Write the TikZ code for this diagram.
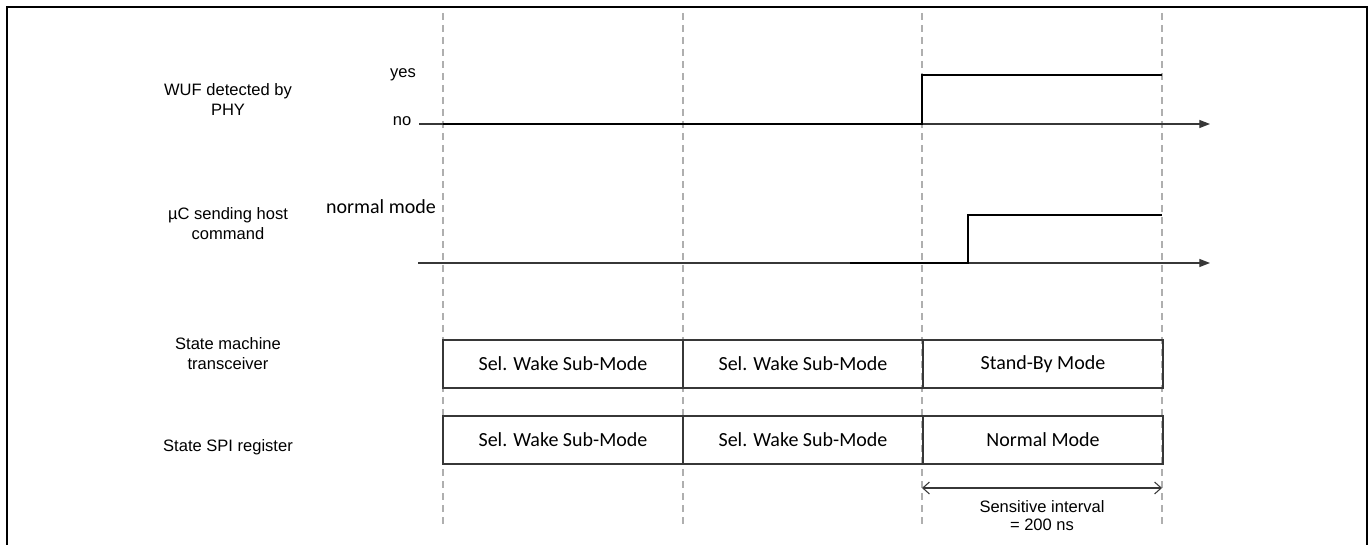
\documentclass[tikz,border=0pt]{standalone}
\usepackage{fontspec}
\setmainfont{Liberation Sans}
\newfontfamily\boxfont{Carlito}
\usetikzlibrary{arrows.meta,positioning}
\definecolor{gridgrey}{RGB}{175,175,175}
\definecolor{boxline}{RGB}{55,55,55}

\begin{document}
\begin{tikzpicture}[
  x=0.75pt, y=-0.75pt,
  lbl/.style={font=\fontsize{12.4}{15}\selectfont, align=center, inner sep=0pt},
  lvl/.style={font=\fontsize{12.4}{15}\selectfont, inner sep=0pt},
  grid/.style={draw=gridgrey, line width=0.8pt, dash pattern=on 5pt off 4pt},
  axis/.style={draw=boxline, line width=0.9pt, -{Triangle[length=8pt,width=6pt]}},
  sig/.style={draw=black, line width=1.8pt},
  state/.style={draw=boxline, line width=1.1pt, minimum width=180pt,
                minimum height=36pt, inner sep=0pt, outer sep=0pt,
                font=\boxfont\fontsize{15}{18}\selectfont}
]
\useasboundingbox (0,0) rectangle (1371,545);
\draw[line width=2pt] (7,545) -- (7,7) -- (1367,7) -- (1367,545);

% time marks and levels
\coordinate (t0) at (443,13);
\coordinate (t1) at (683,13);
\coordinate (t2) at (922,13);
\coordinate (t3) at (1162,13);
\coordinate (bot) at (0,528);
\coordinate (hi1) at (0,75);
\coordinate (lo1) at (0,124);
\coordinate (hi2) at (0,215);
\coordinate (lo2) at (0,263);
\coordinate (row1) at (0,340);
\coordinate (row2) at (0,416);
\coordinate (sens) at (0,488);

\foreach \t in {0,...,3}
  \draw[grid] (t\t) -- (t\t |- bot);

% signal names
\node[lbl] (wuf) at (228,100) {WUF detected by\\PHY};
\node[lbl] (uc) at (228,224) {µC sending host\\command};
\node[lbl] (smt) at (228,354) {State machine\\transceiver};
\node[lbl] (spi) at (228,447) {State SPI register};

% WUF detected by PHY
\node[lvl] (yes) at (403,75) {yes};
\node[lvl] (no) at (402,121) {no};
\coordinate (e1) at (1210,124);
\draw[axis] ([xshift=6pt]no.east |- lo1) -- (e1);
\draw[sig] (t0 |- lo1) -- (t2 |- lo1) -- (t2 |- hi1) -- (t3 |- hi1);

% uC sending host command
\node[lbl, font=\boxfont\fontsize{15}{18}\selectfont] (nm) at (381,207) {normal mode};
\coordinate (a2) at (418,263);
\coordinate (e2) at (1210,263);
\coordinate (go) at (850,263);
\coordinate (cmd) at (968,215);
\draw[axis] (a2) -- (e2);
\draw[sig] (go) -- (cmd |- lo2) -- (cmd) -- (t3 |- hi2);

% state rows
\node[state, anchor=north west] (sm1) at (t0 |- row1) {Sel. Wake Sub-Mode};
\node[state, right=0pt of sm1] (sm2) {Sel. Wake Sub-Mode};
\node[state, right=0pt of sm2] (sm3) {Stand-By Mode};
\node[state, anchor=north west] (sp1) at (t0 |- row2) {Sel. Wake Sub-Mode};
\node[state, right=0pt of sp1] (sp2) {Sel. Wake Sub-Mode};
\node[state, right=0pt of sp2] (sp3) {Normal Mode};

% sensitive interval
\draw[draw=boxline, line width=0.8pt,
      {Straight Barb[length=5pt,width=9pt]}-{Straight Barb[length=5pt,width=9pt]}]
  (t2 |- sens) -- (t3 |- sens);
\node[lbl, font=\fontsize{12.4}{13.5}\selectfont] (ivl) at (1042,516)
  {Sensitive interval\\= 200 ns};
\end{tikzpicture}
\end{document}
